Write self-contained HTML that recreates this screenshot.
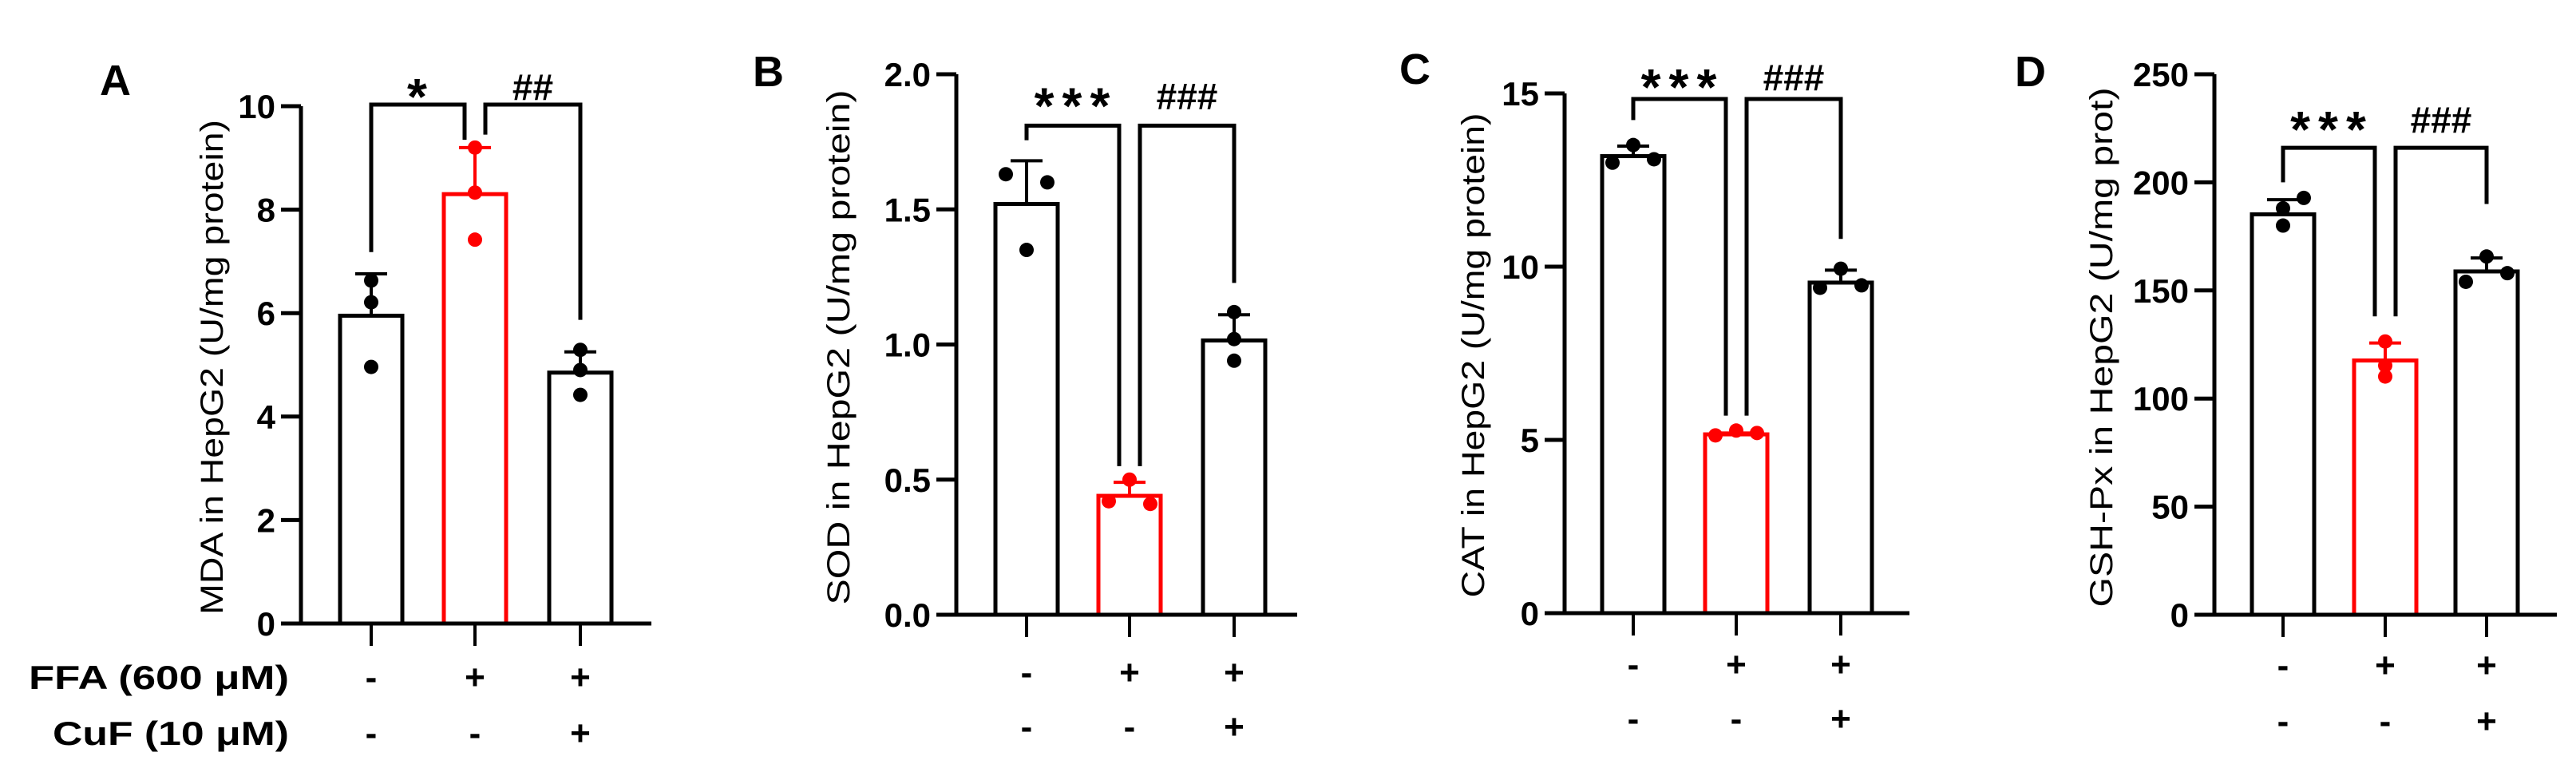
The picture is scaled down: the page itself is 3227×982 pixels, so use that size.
<!DOCTYPE html>
<html><head><meta charset="utf-8"><style>
html,body{margin:0;padding:0;background:#fff;}
svg{display:block;font-family:"Liberation Sans",Arial,sans-serif;}
</style></head><body>
<svg id="fig" width="3227" height="982" viewBox="0 0 3227 982" xmlns="http://www.w3.org/2000/svg"></svg>
<script>
// ---- data ----
const categories = ["Control", "FFA", "FFA+CuF"];
const ffaSigns = ["-", "+", "+"];
const cufSigns = ["-", "-", "+"];
const mdaMeans = [5.95, 8.3, 4.85];
const mdaErr = [6.76, 9.2, 5.25];
const mdaPoints = [[6.63, 6.21, 4.96], [9.2, 8.33, 7.42], [5.29, 4.9, 4.42]];
const mdaTicks = [0, 2, 4, 6, 8, 10];
const sodMeans = [1.52, 0.44, 1.015];
const sodErr = [1.68, 0.49, 1.11];
const sodPoints = [[1.63, 1.6, 1.35], [0.42, 0.41, 0.5], [0.94, 1.02, 1.12]];
const sodTicks = [0, 0.5, 1.0, 1.5, 2.0];
const catMeans = [13.19, 5.16, 9.54];
const catErr = [13.48, 5.2, 9.9];
const catPoints = [[13.0, 13.1, 13.51], [5.13, 5.2, 5.27], [9.39, 9.46, 9.94]];
const catTicks = [0, 5, 10, 15];
const gshMeans = [185.2, 117.6, 158.8];
const gshErr = [192, 125.7, 165];
const gshPoints = [[180, 192.8, 188], [110.2, 126.4, 115.3], [154, 158, 165.7]];
const gshTicks = [0, 50, 100, 150, 200, 250];

const svg = document.getElementById('fig');
const NS = 'http://www.w3.org/2000/svg';
function mk(tag, attrs, parent) {
  const e = document.createElementNS(NS, tag);
  for (const k in attrs) e.setAttribute(k, attrs[k]);
  (parent || svg).appendChild(e);
  return e;
}

const panels = [
  {letter:"A", lx:125, ly:119, ax:377, y0:781, ytop:133, ymax:10, xend:816, barX:[465,595,727], dec:0,
   title:"MDA in HepG2 (U/mg protein)", tx:265, tcy:460, tlen:620, rows:[848,918], gap:22,
   means:mdaMeans, err:mdaErr, pts:mdaPoints, ticks:mdaTicks,
   jit:[[0,0,0],[0,0,0],[0,0,0]],
   br:{top:10.03, l1:7.18, l2:9.35, r1:9.45, r2:5.87, s1:"*", s2:"##"}},
  {letter:"B", lx:943, ly:108, ax:1198, y0:770, ytop:93, ymax:2, xend:1625, barX:[1286,1415,1546], dec:1,
   title:"SOD in HepG2 (U/mg protein)", tx:1050, tcy:435, tlen:645, rows:[842,910], gap:37,
   means:sodMeans, err:sodErr, pts:sodPoints, ticks:sodTicks,
   jit:[[-26,26,0],[-26,26,0],[0,0,0]],
   br:{top:1.81, l1:1.756, l2:0.55, r1:0.55, r2:1.228, s1:"***", s2:"###"}},
  {letter:"C", lx:1753, ly:105, ax:1960, y0:768, ytop:117, ymax:15, xend:2392, barX:[2046,2175,2306], dec:0,
   title:"CAT in HepG2 (U/mg protein)", tx:1845, tcy:445, tlen:607, rows:[832,900], gap:27,
   means:catMeans, err:catErr, pts:catPoints, ticks:catTicks,
   jit:[[-26,26,0],[-26,26,0],[-26,26,0]],
   br:{top:14.84, l1:14.23, l2:5.7, r1:5.7, r2:10.8, s1:"***", s2:"###"}},
  {letter:"D", lx:2524, ly:108, ax:2774, y0:770, ytop:93, ymax:250, xend:3203, barX:[2860,2988,3115], dec:0,
   title:"GSH-Px in HepG2 (U/mg prot)", tx:2632, tcy:435, tlen:651, rows:[833,903], gap:35,
   means:gshMeans, err:gshErr, pts:gshPoints, ticks:gshTicks,
   jit:[[0,26,0],[0,0,0],[-26,26,0]],
   br:{top:216, l1:200, l2:138, r1:138, r2:190, s1:"***", s2:"###"}}
];

panels.forEach((p, pi) => {
  const g = mk('g', {});
  
  
  const yS = v => p.y0 - (v / p.ymax) * (p.y0 - p.ytop);
  const xS = i => p.barX[i];

  const L = mk('text', {x:p.lx, y:p.ly, 'font-size':54, 'font-weight':'bold', fill:'#000'}, g);
  L.textContent = p.letter;
  
  

  const t = mk('text', {x:0, y:0, 'font-size':40, fill:'#000', 'text-anchor':'middle',
    transform:`translate(${p.tx + 14},${p.tcy}) rotate(-90)`, textLength:p.tlen, lengthAdjust:'spacingAndGlyphs'}, g);
  t.textContent = p.title;
  
  

  p.means.forEach((m, i) => {
    const col = i === 1 ? '#ff0000' : '#000';
    const r = mk('rect', {x:xS(i) - 39, y:yS(m), width:78, height:p.y0 - yS(m), fill:'#fff', stroke:col, 'stroke-width':5}, g);
    
    
    const e = mk('path', {d:`M${xS(i)} ${yS(m)}V${yS(p.err[i])}M${xS(i) - 20} ${yS(p.err[i])}H${xS(i) + 20}`, stroke:col, 'stroke-width':4, fill:'none'}, g);
    
    
    p.pts[i].forEach((v, k) => {
      const c = mk('circle', {cx:xS(i) + p.jit[i][k], cy:yS(v), r:9, fill:col}, g);
      
      
    });
  });

  const ya = mk('line', {x1:p.ax, y1:yS(p.ymax), x2:p.ax, y2:p.y0 + 2.5, stroke:'#000', 'stroke-width':5}, g);
  
  
  const xa = mk('line', {x1:p.ax - 25, y1:p.y0, x2:p.xend, y2:p.y0, stroke:'#000', 'stroke-width':5}, g);
  
  
  p.ticks.forEach(v => {
    mk('line', {x1:p.ax - 25, y1:yS(v), x2:p.ax, y2:yS(v), stroke:'#000', 'stroke-width':5}, g);
    const tl = mk('text', {x:p.ax - 32, y:yS(v) + 15, 'font-size':42, 'font-weight':'bold', 'text-anchor':'end', fill:'#000'}, g);
    tl.textContent = p.dec ? v.toFixed(p.dec) : String(v);
    
    
  });
  categories.forEach((c, i) => {
    mk('line', {x1:xS(i), y1:p.y0, x2:xS(i), y2:p.y0 + 28, stroke:'#000', 'stroke-width':4}, g);
    const s1 = mk('text', {x:xS(i), y:p.rows[0] + 15, 'font-size':44, 'font-weight':'bold', 'text-anchor':'middle', fill:'#000'}, g);
    s1.textContent = ffaSigns[i];
    
    
    const s2 = mk('text', {x:xS(i), y:p.rows[1] + 15, 'font-size':44, 'font-weight':'bold', 'text-anchor':'middle', fill:'#000'}, g);
    s2.textContent = cufSigns[i];
    
    
  });

  const b = p.br;
  const xm1 = xS(1) - 13, xm2 = xS(1) + 13;
  const bk = mk('path', {d:`M${xS(0)} ${yS(b.l1)}V${yS(b.top)}H${xm1}V${yS(b.l2)}M${xm2} ${yS(b.r1)}V${yS(b.top)}H${xS(2)}V${yS(b.r2)}`,
    stroke:'#000', 'stroke-width':5, fill:'none'}, g);
  
  
  const st = mk('text', {x:(xS(0) + xm1) / 2 + 4, y:yS(b.top) - p.gap + 34, 'font-size':64, 'font-weight':'bold', 'text-anchor':'middle', 'letter-spacing':10, fill:'#000'}, g);
  st.textContent = b.s1;
  
  
  const hs = mk('text', {x:(xm2 + xS(2)) / 2, y:yS(b.top) - p.gap + 16, 'font-size':46, 'font-weight':'bold', 'text-anchor':'middle', fill:'#000'}, g);
  hs.textContent = b.s2;
  
  
});

const r1 = mk('text', {x:36, y:863, 'font-size':42, 'font-weight':'bold', fill:'#000', textLength:326, lengthAdjust:'spacingAndGlyphs'});
r1.textContent = 'FFA (600 μM)';


const r2 = mk('text', {x:66, y:933, 'font-size':42, 'font-weight':'bold', fill:'#000', textLength:296, lengthAdjust:'spacingAndGlyphs'});
r2.textContent = 'CuF (10 μM)';


</script>
</body></html>
